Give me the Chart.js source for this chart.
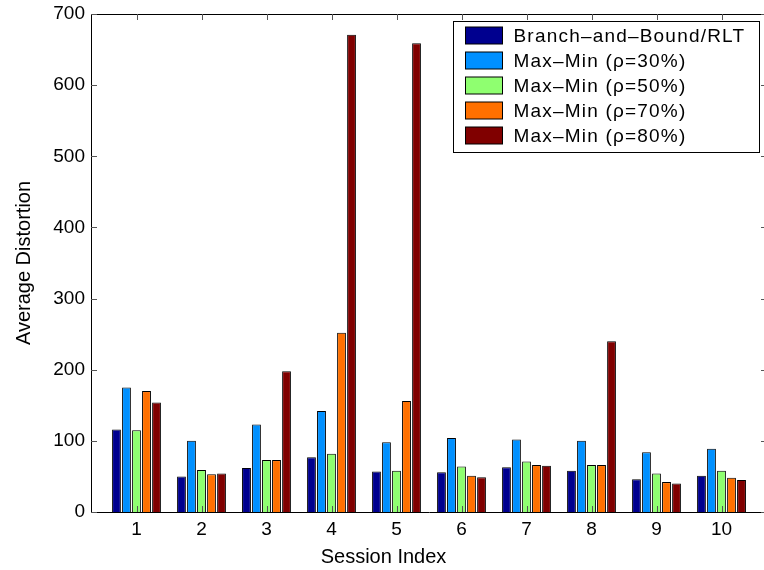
<!DOCTYPE html>
<html>
<head>
<meta charset="utf-8">
<script src="https://cdn.jsdelivr.net/npm/chart.js@4/dist/chart.umd.min.js"></script>
<style>
    html, body { margin: 0; padding: 0; background: #fff; overflow: hidden; }
    #wrap { width: 780px; height: 570px; }
</style>
</head>
<body>
<div id="wrap"><canvas id="distortionChart" width="780" height="570"></canvas></div>
<script>
// Session indices on the x axis
const sessions = [1, 2, 3, 4, 5, 6, 7, 8, 9, 10];
const yTicks = [0, 100, 200, 300, 400, 500, 600, 700];

// Average distortion per session
const branchBound = [116, 50, 62, 77, 57, 56, 63, 58, 46, 51];
const maxMin30 = [175, 100, 123, 142, 98, 104, 102, 100, 84, 89];
const maxMin50 = [115, 59, 73, 82, 58, 64, 71, 66, 54, 58];
const maxMin70 = [170, 53, 73, 252, 156, 51, 66, 66, 42, 48];
const maxMin80 = [154, 54, 198, 671, 659, 49, 65, 240, 40, 45];

const seriesLabels = [
    'Branch\u2013and\u2013Bound/RLT',
    'Max\u2013Min (\u03c1=30%)',
    'Max\u2013Min (\u03c1=50%)',
    'Max\u2013Min (\u03c1=70%)',
    'Max\u2013Min (\u03c1=80%)'
];
const seriesColors = ['#00008f', '#0090ff', '#8fff70', '#ff7000', '#800000'];
const seriesValues = [branchBound, maxMin30, maxMin50, maxMin70, maxMin80];

const FONT = "'Liberation Sans', Arial, Helvetica, sans-serif";

// MATLAB-like box: top/right edges and inward tick marks
const boxFrame = {
    id: 'boxFrame',
    afterDatasetsDraw(chart) {
        const { ctx, chartArea: a, scales } = chart;
        ctx.save();
        ctx.lineWidth = 1;
        ctx.strokeStyle = '#000';
        ctx.beginPath();
        ctx.moveTo(a.left, a.top + 0.5);
        ctx.lineTo(a.right, a.top + 0.5);
        ctx.moveTo(a.right - 0.5, a.top);
        ctx.lineTo(a.right - 0.5, a.bottom);
        ctx.stroke();

        ctx.strokeStyle = '#555';
        ctx.beginPath();
        yTicks.forEach(v => {
            const y = Math.round(scales.y.getPixelForValue(v)) + 0.5;
            ctx.moveTo(a.left, y);
            ctx.lineTo(a.left + 6, y);
            ctx.moveTo(a.right, y);
            ctx.lineTo(a.right - 6, y);
        });
        sessions.forEach(v => {
            const x = Math.round(scales.x.getPixelForValue(v)) + 0.5;
            ctx.moveTo(x, a.top);
            ctx.lineTo(x, a.top + 6);
            ctx.moveTo(x, a.bottom);
            ctx.lineTo(x, a.bottom - 6);
        });
        ctx.stroke();
        ctx.restore();
    }
};

// Boxed legend in the upper right corner of the axes
const boxLegend = {
    id: 'boxLegend',
    afterDraw(chart) {
        const { ctx, chartArea: a } = chart;
        const x0 = a.right - 313.5;
        const y0 = a.top + 7.5;
        const w = 306;
        const h = 131;
        ctx.save();
        ctx.fillStyle = '#fff';
        ctx.fillRect(x0, y0, w, h);
        ctx.strokeStyle = '#000';
        ctx.lineWidth = 1;
        ctx.strokeRect(x0, y0, w, h);

        ctx.font = '19px ' + FONT;
        ctx.letterSpacing = '1.2px';
        ctx.textBaseline = 'middle';
        chart.data.datasets.forEach((ds, i) => {
            const cy = y0 + 14 + i * 25;
            ctx.fillStyle = ds.backgroundColor;
            ctx.fillRect(x0 + 12, cy - 8.5, 37, 17);
            ctx.strokeStyle = '#000';
            ctx.strokeRect(x0 + 12, cy - 8.5, 37, 17);
            ctx.fillStyle = '#000';
            ctx.fillText(ds.label, x0 + 60, cy + 1);
        });
        ctx.restore();
    }
};

const datasets = seriesLabels.map((label, i) => ({
    label: label,
    data: sessions.map((s, j) => ({ x: s, y: seriesValues[i][j] })),
    backgroundColor: seriesColors[i],
    borderColor: '#000',
    borderWidth: 1,
    categoryPercentage: 0.77,
    barPercentage: 0.88
}));

new Chart(document.getElementById('distortionChart'), {
    type: 'bar',
    data: { datasets: datasets },
    options: {
        responsive: false,
        animation: false,
        layout: { padding: { top: 0, right: 13, left: 0, bottom: 0 } },
        plugins: {
            legend: { display: false },
            tooltip: { enabled: false },
            title: {
                display: true,
                position: 'bottom',
                text: 'Session Index',
                color: '#000',
                font: { family: FONT, size: 20, weight: 'normal' },
                padding: { top: 3, bottom: 1 }
            }
        },
        scales: {
            x: {
                type: 'linear',
                min: 0.3,
                max: 10.7,
                offset: false,
                afterBuildTicks: scale => {
                    scale.ticks = sessions.map(v => ({ value: v }));
                },
                afterFit: scale => { scale.height = 30; },
                ticks: {
                    color: '#000',
                    font: { family: FONT, size: 19 },
                    padding: 6,
                    autoSkip: false,
                    maxRotation: 0,
                    callback: v => String(v)
                },
                grid: { display: false, drawTicks: false },
                border: { display: true, color: '#000', width: 1 }
            },
            y: {
                min: 0,
                max: 700,
                afterBuildTicks: scale => {
                    scale.ticks = yTicks.map(v => ({ value: v }));
                },
                afterFit: scale => {
                    scale.width = 91;
                    scale.paddingTop = 14;
                    scale.paddingBottom = 0;
                },
                ticks: {
                    color: '#000',
                    font: { family: FONT, size: 19 },
                    padding: 6
                },
                title: {
                    display: true,
                    text: 'Average Distortion',
                    color: '#000',
                    font: { family: FONT, size: 20 },
                    padding: { top: 12, bottom: 0 }
                },
                grid: { display: false, drawTicks: false },
                border: { display: true, color: '#000', width: 1 }
            }
        }
    },
    plugins: [boxFrame, boxLegend]
});
</script>
</body>
</html>
